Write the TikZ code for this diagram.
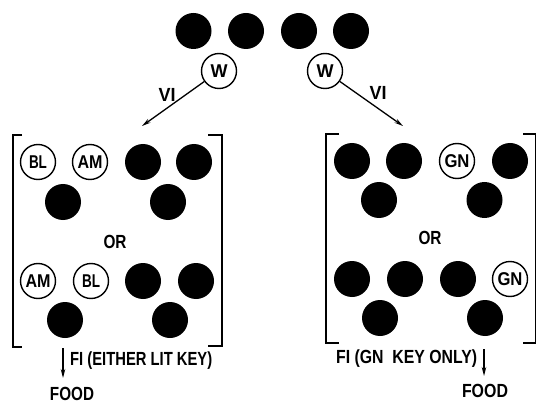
\documentclass[tikz,border=0pt]{standalone}
\usepackage{fontspec}
\setmainfont{Liberation Sans}
\usetikzlibrary{arrows.meta}
\newcommand\fitw[2]{\resizebox{#1}{\height}{#2}}
\tikzset{
  dot/.style={circle, fill=black, minimum size=36pt, inner sep=0pt},
  keyc/.style={circle, draw, line width=1.4pt, minimum size=35pt, inner sep=0pt, font=\fontsize{18.5}{18.5}\selectfont\bfseries},
  txt/.style={inner sep=0pt, font=\fontsize{19}{19}\selectfont\bfseries},
  brk/.style={line width=1.8pt},
  arr/.style={line width=1.3pt, -{Stealth[length=9pt,width=4.5pt]}},
}
\begin{document}
\begin{tikzpicture}[x=1pt,y=-1pt]
\useasboundingbox (0,0) rectangle (537,403);
% top row
\node[dot] (t1) at (193.5,31) {};
\node[dot] (t2) at (246,31) {};
\node[dot] (t3) at (299,31) {};
\node[dot] (t4) at (351,31) {};
\node[keyc] (wl) at (219,71) {\fitw{17pt}{W}};
\node[keyc] (wr) at (325,71) {\fitw{17pt}{W}};
\coordinate (al) at (142,126);
\coordinate (ar) at (403,126);
\draw[arr] (wl) -- (al);
\draw[arr] (wr) -- (ar);
\node[txt] (vil) at (167,95) {\fitw{17pt}{VI}};
\node[txt] (vir) at (378,93) {\fitw{17pt}{VI}};
% left panel brackets
\draw[brk] (22,135) -- (13,135) -- (13,347) -- (22,347);
\draw[brk] (208,135) -- (222,135) -- (222,346) -- (208,346);
\node[keyc] (l1) at (38,162) {\fitw{18pt}{BL}};
\node[keyc] (l2) at (90,162) {\fitw{25pt}{AM}};
\node[dot] (l3) at (143,162) {};
\node[dot] (l4) at (194,162) {};
\node[dot] (l5) at (63,202) {};
\node[dot] (l6) at (168,202) {};
\node[txt] (lor) at (115,242) {\fitw{23pt}{OR}};
\node[keyc] (l7) at (38,281) {\fitw{25pt}{AM}};
\node[keyc] (l8) at (91,281) {\fitw{18pt}{BL}};
\node[dot] (l9) at (143,281) {};
\node[dot] (l10) at (196,281) {};
\node[dot] (l11) at (65,320) {};
\node[dot] (l12) at (170,320) {};
\coordinate (fl1) at (63,348);
\coordinate (fl2) at (63,378);
\draw[arr] (fl1) -- (fl2);
\node[txt, anchor=west] (fil) at (70,361) {\fitw{142pt}{FI (EITHER LIT KEY)}};
\node[txt] (foodl) at (72,393.5) {\fitw{44pt}{FOOD}};
% right panel brackets
\draw[brk] (339,134) -- (326,134) -- (326,343) -- (339,343);
\draw[brk] (523,134) -- (535.5,134) -- (535.5,343) -- (523,343);
\node[dot] (r1) at (352,161) {};
\node[dot] (r2) at (404,161) {};
\node[keyc] (r3) at (457,161) {\fitw{25pt}{GN}};
\node[dot] (r4) at (510,161) {};
\node[dot] (r5) at (379,200) {};
\node[dot] (r6) at (484.5,200) {};
\node[txt] (ror) at (430,238) {\fitw{23pt}{OR}};
\node[dot] (r7) at (352,279) {};
\node[dot] (r8) at (405,279) {};
\node[dot] (r9) at (458,279) {};
\node[keyc] (r10) at (510,279) {\fitw{25pt}{GN}};
\node[dot] (r11) at (380,318) {};
\node[dot] (r12) at (485,318) {};
\coordinate (fr1) at (484,349);
\coordinate (fr2) at (484,376);
\draw[arr] (fr1) -- (fr2);
\node[txt, anchor=west] (fir) at (336,359) {\fitw{141pt}{FI (GN\ \ KEY ONLY)}};
\node[txt] (foodr) at (485,391) {\fitw{46pt}{FOOD}};
\end{tikzpicture}
\end{document}
